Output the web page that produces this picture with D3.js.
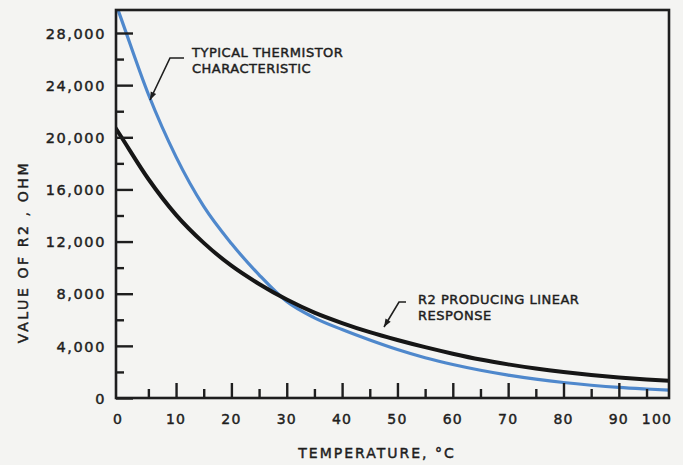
<!DOCTYPE html>
<html>
<head>
<meta charset="utf-8">
<script src="https://cdn.jsdelivr.net/npm/d3@7"></script>
<style>
  html, body { margin: 0; padding: 0; background: #f4f4f2; }
  svg { display: block; }
  text { font-family: "DejaVu Sans", sans-serif; fill: #1e1e1e; stroke: #1e1e1e; stroke-width: 0.45px; }
</style>
</head>
<body>
<svg id="chart" width="683" height="465"></svg>
<script>
// ---- data ----
const temps = [0, 5, 10, 15, 20, 25, 30, 35, 40, 45, 50, 55, 60, 65, 70, 75, 80, 85, 90, 95, 100];
const thermistor = [29200, 23300, 18500, 14700, 11850, 9450, 7400, 6150, 5250, 4450, 3720, 3090, 2570, 2130, 1760, 1450, 1190, 980, 810, 690, 590];
const r2Linear = [20100, 16800, 14050, 11900, 10150, 8750, 7550, 6550, 5750, 5050, 4450, 3900, 3400, 2950, 2580, 2260, 1990, 1760, 1570, 1420, 1300];
const yMajorTicks = [0, 4000, 8000, 12000, 16000, 20000, 24000, 28000];
const yMinorTicks = [2000, 6000, 10000, 14000, 18000, 22000, 26000];
const xMajorTicks = [10, 20, 30, 40, 50, 60, 70, 80, 90];
const xMinorTicks = [5, 15, 25, 35, 45, 55, 65, 75, 85, 95];
const xTickLabels = [0, 10, 20, 30, 40, 50, 60, 70, 80, 90, 100];
const yAxisTitle = "VALUE OF R2 , OHM";
const xAxisTitle = "TEMPERATURE, °C";
const note1 = ["TYPICAL THERMISTOR", "CHARACTERISTIC"];
const note2 = ["R2 PRODUCING LINEAR", "RESPONSE"];

// ---- layout ----
const L = 116, R = 669, T = 10, B = 398;
const svg = d3.select("#chart");

const x = d3.scaleLinear().domain([0, 100]).range([120.7, 674.2]);
const y = d3.scaleLinear().domain([0, 28000]).range([B, 33]);

const fmt = d3.format(",");

// clip
svg.append("clipPath").attr("id", "clip")
  .append("rect").attr("x", L).attr("y", T).attr("width", R - L).attr("height", B - T);

// curves
const line = d3.line().x(d => x(d[0])).y(d => y(d[1])).curve(d3.curveMonotoneX);
const gCurves = svg.append("g").attr("clip-path", "url(#clip)");
function drawSeries(vals, color, width) {
  const pts = temps.map((t, i) => [t, vals[i]]);
  // lead-in point at the axis edge following the initial slope
  const t0 = x.invert(L - 2);
  const slope = (vals[1] - vals[0]) / (temps[1] - temps[0]);
  const ptsAll = [[t0, vals[0] + slope * (t0 - temps[0])]].concat(pts);
  gCurves.append("path")
    .datum(ptsAll)
    .attr("fill", "none")
    .attr("stroke", color)
    .attr("stroke-width", width)
    .attr("stroke-linecap", "round")
    .attr("d", line);
}
drawSeries(thermistor, "#4f88cc", 3.2);
drawSeries(r2Linear, "#161616", 4);

// frame
svg.append("rect").attr("x", L).attr("y", T).attr("width", R - L).attr("height", B - T)
  .attr("fill", "none").attr("stroke", "#1e1e1e").attr("stroke-width", 2.6);

// y ticks (pointing inward)
const yMaj = svg.append("g").attr("transform", `translate(${L},0)`)
  .call(d3.axisRight(y).tickValues(yMajorTicks).tickSize(17).tickFormat(""));
const yMin = svg.append("g").attr("transform", `translate(${L},0)`)
  .call(d3.axisRight(y).tickValues(yMinorTicks).tickSize(8).tickFormat(""));
[yMaj, yMin].forEach(g => {
  g.select(".domain").remove();
  g.selectAll("line").attr("stroke", "#1e1e1e").attr("stroke-width", 2.4);
});

// y tick labels
const yLab = svg.append("g").attr("transform", `translate(${L},0)`)
  .call(d3.axisLeft(y).tickValues(yMajorTicks).tickSize(0).tickPadding(10).tickFormat(fmt));
yLab.select(".domain").remove();
yLab.selectAll("text")
  .attr("font-family", "DejaVu Sans, sans-serif")
  .attr("font-size", 14.5)
  .attr("letter-spacing", 1.6)
  .attr("fill", "#1e1e1e")
  .attr("dy", "0.36em");

// x ticks (pointing up)
const xMaj = svg.append("g").attr("transform", `translate(0,${B})`)
  .call(d3.axisTop(x).tickValues(xMajorTicks).tickSize(15).tickFormat(""));
const xMin = svg.append("g").attr("transform", `translate(0,${B})`)
  .call(d3.axisTop(x).tickValues(xMinorTicks).tickSize(9).tickFormat(""));
[xMaj, xMin].forEach(g => {
  g.select(".domain").remove();
  g.selectAll("line").attr("stroke", "#1e1e1e").attr("stroke-width", 2.4);
});

// x tick labels
svg.append("g").selectAll("text").data(xTickLabels).join("text")
  .attr("x", d => d === 0 ? L + 2 : Math.min(x(d), R - 12))
  .attr("y", 424)
  .attr("text-anchor", "middle")
  .attr("font-size", 14)
  .attr("letter-spacing", 1.2)
  .text(d => d);

// axis titles
svg.append("text")
  .attr("transform", `translate(28,252) rotate(-90)`)
  .attr("text-anchor", "middle")
  .attr("font-size", 14)
  .attr("letter-spacing", 2.6)
  .text(yAxisTitle);
svg.append("text")
  .attr("x", 377).attr("y", 458)
  .attr("text-anchor", "middle")
  .attr("font-size", 14)
  .attr("letter-spacing", 2)
  .text(xAxisTitle);

// annotations
function note(lines, tx, ty, leader) {
  const t = svg.append("text").attr("x", tx).attr("y", ty).attr("font-size", 13).attr("letter-spacing", 0.5);
  lines.forEach((s, i) => t.append("tspan").attr("x", tx).attr("dy", i === 0 ? 0 : 16).text(s));
  svg.append("path")
    .attr("d", d3.line()(leader))
    .attr("fill", "none").attr("stroke", "#1e1e1e").attr("stroke-width", 1.6);
  const [p1, p2] = [leader[leader.length - 2], leader[leader.length - 1]];
  const ang = Math.atan2(p2[1] - p1[1], p2[0] - p1[0]);
  const len = 8, w = 3;
  const bx = p2[0] - len * Math.cos(ang), by = p2[1] - len * Math.sin(ang);
  svg.append("path")
    .attr("d", d3.line()([
      [p2[0], p2[1]],
      [bx + w * Math.sin(ang), by - w * Math.cos(ang)],
      [bx - w * Math.sin(ang), by + w * Math.cos(ang)]
    ]) + "Z")
    .attr("fill", "#1e1e1e");
}
note(note1, 192, 57, [[184, 58], [170, 58], [150, 100]]);
note(note2, 418, 304, [[406, 302], [399, 302], [384, 327]]);
</script>
</body>
</html>
